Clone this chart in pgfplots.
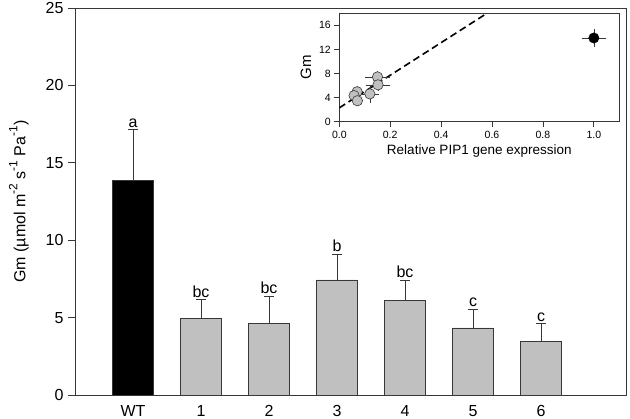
\documentclass[border=0pt]{standalone}
\usepackage{pgfplots}
\pgfplotsset{compat=1.18}
\usepackage{fontspec}
\setmainfont{Liberation Sans}
\definecolor{barg}{RGB}{192,192,192}
\definecolor{edge}{RGB}{55,55,55}
\newcommand{\supx}[1]{\raisebox{0.5em}{\fontsize{12}{12}\selectfont #1}}
\begin{document}
\begin{tikzpicture}[x=1pt,y=1pt]
\path[use as bounding box] (-75pt,-24pt) rectangle (555pt,395pt);
\begin{axis}[
  at={(0pt,0pt)}, anchor=south west,
  scale only axis, width=551pt, height=387pt,
  xmin=-0.853, xmax=7.25, ymin=0, ymax=25,
  axis line style={edge, line width=0.8pt},
  ytick={0,5,10,15,20,25},
  xtick={0,1,2,3,4,5,6},
  xticklabels={WT,1,2,3,4,5,6},
  xtick style={draw=none},
  ytick style={edge, line width=0.8pt},
  tick align=outside, major tick length=7pt,
  ytick pos=left, xtick pos=bottom,
  /pgf/number format/assume math mode=true,
  tick label style={font=\fontsize{16}{16}\selectfont},
  yticklabel style={xshift=-1pt},
  ylabel={Gm (µmol m\supx{-2} s\supx{-1} Pa\supx{-1})},
  ylabel style={font=\fontsize{16}{16}\selectfont, yshift=10pt},
  clip=false,
]
\addplot[ybar, bar shift=0pt, bar width=41pt, fill=black, draw=edge,
  error bars/.cd, y dir=plus, y explicit,
  error bar style={edge, line width=0.8pt},
  error mark options={rotate=90, mark size=5pt, edge, line width=0.8pt}]
  table[x=x, y=y, y error=e] {
x y e
0 13.9 3.25
};
\addplot[ybar, bar shift=0pt, bar width=41pt, fill=barg, draw=edge,
  error bars/.cd, y dir=plus, y explicit,
  error bar style={edge, line width=0.8pt},
  error mark options={rotate=90, mark size=5pt, edge, line width=0.8pt}]
  table[x=x, y=y, y error=e] {
x y e
1 4.97 1.2
2 4.62 1.78
3 7.43 1.67
4 6.12 1.3
5 4.33 1.22
6 3.48 1.12
};
\addplot[only marks, mark=none, nodes near coords, point meta=explicit symbolic,
  nodes near coords style={anchor=south, font=\fontsize{16}{16}\selectfont, inner sep=2pt}]
  table[x=x, y=y, meta=lab] {
x y lab
0 17.15 a
1 6.17 bc
2 6.40 bc
3 9.10 b
4 7.42 bc
5 5.55 c
6 4.60 c
};
\end{axis}
\begin{axis}[
  at={(264.3pt,273.3pt)}, anchor=south west,
  scale only axis, width=280pt, height=108.4pt,
  xmin=0, xmax=1.1, ymin=0, ymax=18,
  axis background/.style={fill=white},
  axis line style={edge, line width=0.8pt},
  xtick={0,0.2,0.4,0.6,0.8,1.0},
  ytick={0,4,8,12,16},
  xticklabel style={yshift=-1pt, /pgf/number format/.cd, fixed, fixed zerofill, precision=1},
  tick style={edge, line width=0.8pt},
  tick align=outside, major tick length=5pt,
  ytick pos=left, xtick pos=bottom,
  /pgf/number format/assume math mode=true,
  tick label style={font=\fontsize{10.5}{10.5}\selectfont},
  xlabel={Relative PIP1 gene expression},
  ylabel={Gm},
  xlabel style={font=\fontsize{13.5}{13.5}\selectfont, yshift=1pt},
  ylabel style={font=\fontsize{15}{15}\selectfont, yshift=1pt},
]
\addplot[black, dashed, line width=1.6pt, dash pattern=on 7pt off 4pt] coordinates {(0,2.3) (0.58,18)};
\addplot[only marks, mark=*, mark size=5.2pt, mark options={fill=barg, draw=edge, line width=0.6pt},
  error bars/.cd, x dir=both, y dir=both, x explicit, y explicit,
  error bar style={edge, line width=0.6pt},
  error mark options={edge, mark size=3.5pt, line width=0.6pt}]
  table[x=x, y=y, x error=ex, y error=ey] {
x y ex ey
0.070 4.97 0.008 0.3
0.120 4.62 0.022 0.9
0.150 7.43 0.034 0.4
0.152 6.12 0.034 0.4
0.058 4.33 0.008 0.3
0.071 3.48 0.008 0.3
};
\addplot[only marks, mark=*, mark size=5.2pt, mark options={fill=black, draw=black},
  error bars/.cd, x dir=both, y dir=both, x explicit, y explicit,
  error bar style={edge, line width=0.6pt},
  error mark options={edge, mark size=3.5pt, line width=0.6pt}]
  table[x=x, y=y, x error=ex, y error=ey] {
x y ex ey
1.0 13.9 0.033 0.9
};
\end{axis}
\end{tikzpicture}
\end{document}
